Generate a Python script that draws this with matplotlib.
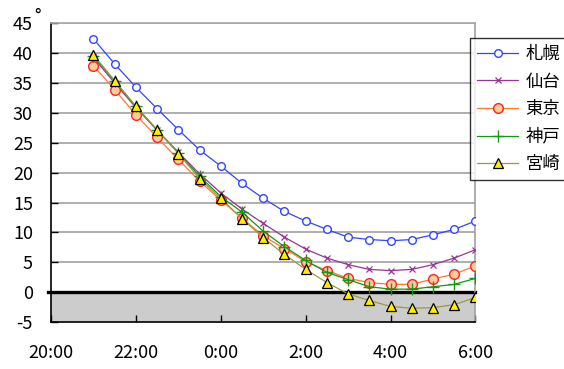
import matplotlib
matplotlib.use("Agg")
import matplotlib.pyplot as plt
import numpy as np

plt.rcParams["font.family"] = ["Noto Sans CJK JP", "DejaVu Sans"]

# half-hourly readings from 21:00 to 6:00 (hours past midnight shifted by 24)
hours = [21 + 0.5 * i for i in range(19)]

sapporo  = [42.4, 38.2, 34.3, 30.7, 27.2, 23.8, 21.1, 18.2, 15.7, 13.5,
            11.9, 10.5, 9.2, 8.8, 8.6, 8.8, 9.6, 10.5, 11.9]
sendai   = [39.3, 35.0, 30.9, 27.1, 23.4, 19.8, 16.6, 13.9, 11.5, 9.2,
            7.2, 5.7, 4.6, 3.8, 3.6, 3.8, 4.6, 5.7, 7.1]
tokyo    = [37.9, 33.9, 29.7, 25.9, 22.2, 18.6, 15.4, 12.4, 9.4, 7.3,
            5.1, 3.6, 2.3, 1.6, 1.3, 1.3, 2.2, 3.0, 4.4]
kobe     = [39.6, 35.3, 31.1, 27.1, 23.3, 19.4, 16.0, 13.4, 10.2, 7.6,
            5.3, 3.3, 2.1, 0.9, 0.5, 0.5, 0.9, 1.3, 2.3]
miyazaki = [39.7, 35.4, 31.1, 27.2, 23.2, 19.0, 15.7, 12.3, 9.1, 6.3,
            3.8, 1.6, -0.3, -1.4, -2.4, -2.7, -2.6, -2.1, -0.9]

cities = ["札幌", "仙台", "東京", "神戸", "宮崎"]
tick_hours = [20, 22, 24, 26, 28, 30]
tick_labels = ["20:00", "22:00", "0:00", "2:00", "4:00", "6:00"]

fig = plt.figure(figsize=(5.64, 3.69), dpi=100)
ax = fig.add_axes([0.0904, 0.1274, 0.7526, 0.8095])

ax.axhspan(-5, 0, color="#cccccc", zorder=0)
for y in range(5, 50, 5):
    ax.axhline(y, color="#a8a8a8", lw=1.3, zorder=1)
ax.axhline(0, xmin=-0.008, xmax=1, color="black", lw=2.4, zorder=2, clip_on=False)

ax.plot(hours, sapporo, color="#3344ff", lw=0.9, marker="o", ms=5.5,
        mfc="white", mec="#3344ff", mew=1.0, label=cities[0], zorder=3)
ax.plot(hours, sendai, color="#993399", lw=0.9, marker="x", ms=5,
        mec="#993399", mew=0.9, label=cities[1], zorder=3)
ax.plot(hours, tokyo, color="#ff7733", lw=0.9, marker="o", ms=7,
        mfc="#ffcc99", mec="#ff2222", mew=1.0, label=cities[2], zorder=3)
ax.plot(hours, kobe, color="#119911", lw=0.9, marker="+", ms=8,
        mec="#119911", mew=1.0, label=cities[3], zorder=3)
ax.plot(hours, miyazaki, color="#999944", lw=0.9, marker="^", ms=6.5,
        mfc="#ffee00", mec="black", mew=0.9, label=cities[4], zorder=4)

ax.set_xlim(20, 30)
ax.set_ylim(-5, 45)
ax.set_xticks(tick_hours)
ax.set_xticklabels(tick_labels)
ax.set_yticks(range(-5, 50, 5))
ax.set_yticklabels([str(v) for v in range(-5, 50, 5)])
ax.tick_params(axis="y", direction="in", length=5, width=1, pad=13, labelsize=13)
ax.tick_params(axis="x", direction="in", length=5, width=1, pad=16, labelsize=13)

ax.spines["left"].set_color("black")
ax.spines["bottom"].set_color("black")
ax.spines["right"].set_color("#a0a0a0")
ax.spines["top"].set_color("#a8a8a8")
for s in ax.spines.values():
    s.set_linewidth(1.2)

# degree mark above the top tick label
fig.text(0.066, 0.955, "°", fontsize=13, ha="center", va="center")

leg = ax.legend(loc="upper left", bbox_to_anchor=(0.833, 0.897),
                bbox_transform=fig.transFigure, fontsize=12.5, frameon=True,
                fancybox=False, edgecolor="black", handlelength=2.4,
                labelspacing=0.55, borderpad=0.4, handletextpad=0.4,
                borderaxespad=0)
leg.get_frame().set_linewidth(1.0)

fig.savefig("out.png", dpi=100)
